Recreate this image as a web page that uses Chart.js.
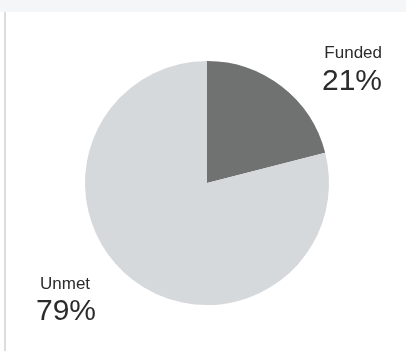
<!DOCTYPE html>
<html>
<head>
<meta charset="utf-8">
<script src="https://cdn.jsdelivr.net/npm/chart.js@4/dist/chart.umd.min.js"></script>
<style>
  html, body { margin: 0; padding: 0; background: #fff; }
  .wrap { position: relative; width: 406px; height: 351px; }
  .topband { position: absolute; left: 0; top: 0; width: 406px; height: 12px; background: #f5f6f8; }
  .sideline { position: absolute; left: 4px; top: 12px; width: 2px; height: 339px; background: #dcdcdc; }
  canvas { position: absolute; left: 0; top: 0; }
</style>
</head>
<body>
<div class="wrap">
  <div class="topband"></div>
  <div class="sideline"></div>
  <canvas id="pie" width="406" height="351"></canvas>
</div>
<script>
const labels = ['Funded', 'Unmet'];
const values = [21, 79];
const colors = ['#6f7271', '#d6d9dc'];

// where each slice's text sits: name x, name baseline, percent x, percent baseline, align
const labelSpots = [
  [382, 58, 382, 90, 'right'],
  [40, 289, 36, 320, 'left']
];

const sliceLabels = {
  id: 'sliceLabels',
  afterDraw(chart) {
    const ctx = chart.ctx;
    ctx.save();
    ctx.fillStyle = '#2b2b2b';
    ctx.textBaseline = 'alphabetic';
    labels.forEach((name, i) => {
      const [nx, ny, px, py, align] = labelSpots[i];
      ctx.textAlign = align;
      ctx.font = '17px "Liberation Sans", Arial, sans-serif';
      ctx.fillText(name, nx, ny);
      ctx.font = '30px "Liberation Sans", Arial, sans-serif';
      ctx.fillText(values[i] + '%', px, py);
    });
    ctx.restore();
  }
};

new Chart(document.getElementById('pie'), {
  type: 'pie',
  data: {
    labels: labels,
    datasets: [{
      data: values,
      backgroundColor: colors,
      borderWidth: 0
    }]
  },
  options: {
    responsive: false,
    animation: false,
    layout: { padding: { left: 85, right: 77, top: 61, bottom: 46 } },
    plugins: {
      legend: { display: false },
      tooltip: { enabled: false }
    }
  },
  plugins: [sliceLabels]
});
</script>
</body>
</html>
